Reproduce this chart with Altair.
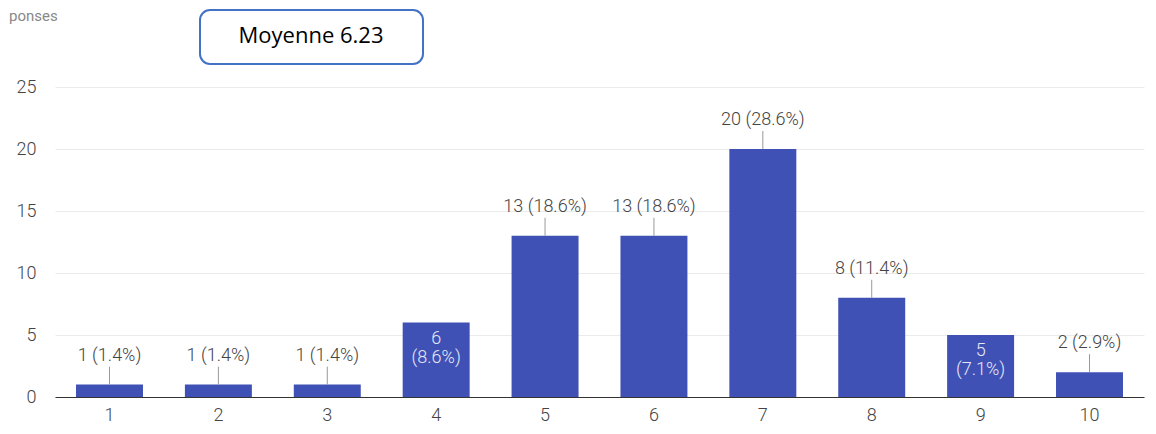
import altair as alt
import pandas as pd

scores = ["1", "2", "3", "4", "5", "6", "7", "8", "9", "10"]
counts = [1, 1, 1, 6, 13, 13, 20, 8, 5, 2]
percents = ["1.4%", "1.4%", "1.4%", "8.6%", "18.6%", "18.6%", "28.6%", "11.4%", "7.1%", "2.9%"]
inside = [False, False, False, True, False, False, False, False, True, False]
y_ticks = [0, 5, 10, 15, 20, 25]
mean_label = "Moyenne 6.23"
corner_text = "ponses"

df = pd.DataFrame({
    "score": scores,
    "count": counts,
    "pct": percents,
    "inside": inside,
})
df["label"] = df["count"].astype(str) + " (" + df["pct"] + ")"
df["num"] = df["count"].astype(str)
df["pctp"] = "(" + df["pct"] + ")"

W, H = 1089, 310
FONT = "Roboto"
BAR = "#3f51b5"
FS = 18

x = alt.X("score:O", sort=scores,
          scale=alt.Scale(paddingInner=0.385, paddingOuter=0.193),
          axis=alt.Axis(title=None, labelAngle=0, ticks=False, domainColor="#333333",
                        domainWidth=1.2, labelColor="#444444", labelFontSize=FS,
                        labelFont=FONT, labelFontWeight=300, labelPadding=9, grid=False))
y = alt.Y("count:Q", scale=alt.Scale(domain=[0, 25], nice=False, zero=True),
          axis=alt.Axis(title=None, values=y_ticks, domain=False, ticks=False,
                        labelColor="#444444", labelFontSize=FS, labelFont=FONT,
                        labelFontWeight=300, labelPadding=19, gridColor="#ebebeb", gridWidth=1))

base = alt.Chart(df)

bars = base.mark_bar(color=BAR).encode(x=x, y=y)

xs = alt.X("score:O", sort=scores)
outside = base.transform_filter("!datum.inside")
rules = outside.mark_rule(color="#999999", strokeWidth=1, y2Offset=-18).encode(
    x=xs, y="count:Q", y2="count:Q")
out_text = outside.mark_text(dy=-29, fontSize=FS, font=FONT, fontWeight=300,
                             color="#444444").encode(
    x=xs, y="count:Q", text="label:N")

ins = base.transform_filter("datum.inside")
in_num = ins.mark_text(dy=16, fontSize=FS, font=FONT, fontWeight=300, color="#e6e8f5").encode(
    x=xs, y="count:Q", text="num:N")
in_pct = ins.mark_text(dy=35, fontSize=FS, font=FONT, fontWeight=300, color="#e6e8f5").encode(
    x=xs, y="count:Q", text="pctp:N")

ann = pd.DataFrame({"t": [mean_label]})
box = alt.Chart(ann).mark_rect(cornerRadius=10, fill="white", stroke="#4472C4",
                               strokeWidth=2).encode(
    x=alt.value(145), x2=alt.value(368), y=alt.value(-77), y2=alt.value(-23))
box_text = alt.Chart(ann).mark_text(fontSize=22, font="Open Sans", color="#000000").encode(
    x=alt.value(256), y=alt.value(-51), text="t:N")

corner = alt.Chart(pd.DataFrame({"t": [corner_text]})).mark_text(
    fontSize=15, font=FONT, color="#888888", align="left", baseline="alphabetic").encode(
    x=alt.value(-46), y=alt.value(-66), text="t:N")

chart = alt.layer(bars, rules, out_text, in_num, in_pct, box, box_text, corner).properties(
    width=W, height=H,
    autosize=alt.AutoSizeParams(type="none"),
    padding={"left": 47, "top": 79, "right": 4, "bottom": 29},
    background="white",
).configure_view(stroke=None)

chart.save("out.html", embed_options={"renderer": "svg", "actions": False})
